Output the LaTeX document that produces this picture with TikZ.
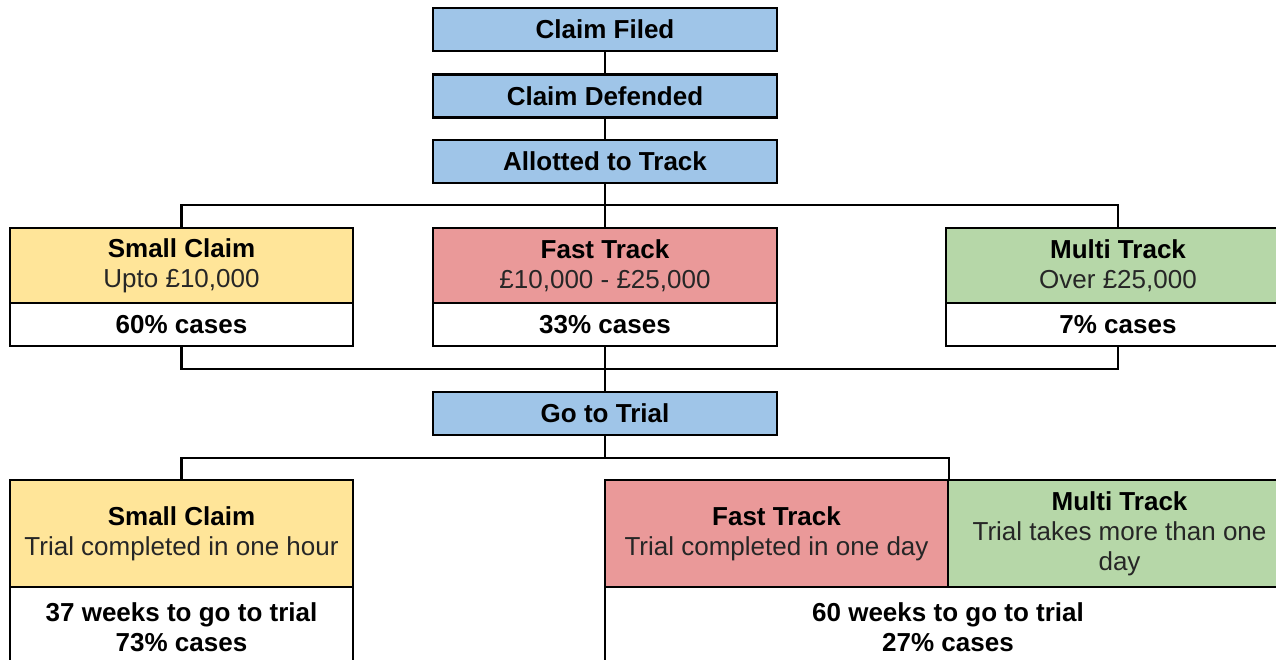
\documentclass[tikz,border=0pt]{standalone}
\usepackage{fontspec}
\setmainfont{Liberation Sans}
\definecolor{cblue}{HTML}{9FC5E8}
\definecolor{cyellow}{HTML}{FFE599}
\definecolor{cred}{HTML}{EA9999}
\definecolor{cgreen}{HTML}{B6D7A8}
\definecolor{ctext}{HTML}{262626}
\begin{document}
\begin{tikzpicture}[x=1pt,y=-1pt,
  box/.style={draw=black, line width=2.2pt, inner sep=0pt, align=center,
    font=\fontsize{26}{30}\selectfont, text=black},
  stage/.style={box, fill=cblue, minimum width=344pt, minimum height=43pt, font=\fontsize{26}{30}\selectfont\bfseries},
  whitebox/.style={box, fill=white, font=\fontsize{26}{30}\selectfont\bfseries},
  conn/.style={draw=black, line width=2.2pt}]
\useasboundingbox (0,0) rectangle (1276,659);
\clip (0,0) rectangle (1276,659);
\fill[white] (0,0) rectangle (1276,659);
\coordinate (b1) at (605,205);
\coordinate (b2) at (605,369);
\coordinate (b3) at (605,458);
% stages
\node[stage] (filed) at (605,29.5) {Claim Filed};
\node[stage] (defended) at (605,96) {Claim Defended};
\node[stage] (allotted) at (605,161.5) {Allotted to Track};
% row 2
\node[box, fill=cyellow, minimum width=343pt, minimum height=75pt] (smallT) at (181.5,265.5)
  {\textbf{Small Claim}\\{\color{ctext}Upto £10,000}};
\node[whitebox, minimum width=343pt, minimum height=43pt] (smallB) at (181.5,324.5) {60\% cases};
\node[box, fill=cred, minimum width=344pt, minimum height=75pt] (fastT) at (605,265.5)
  {\textbf{Fast Track}\\{\color{ctext}£10,000 - £25,000}};
\node[whitebox, minimum width=344pt, minimum height=43pt] (fastB) at (605,324.5) {33\% cases};
\node[box, fill=cgreen, minimum width=344pt, minimum height=75pt] (multiT) at (1118,265.5)
  {\textbf{Multi Track}\\{\color{ctext}Over £25,000}};
\node[whitebox, minimum width=344pt, minimum height=43pt] (multiB) at (1118,324.5) {7\% cases};
% go to trial
\node[stage] (trial) at (605,413.5) {Go to Trial};
% row 3
\node[box, fill=cyellow, minimum width=343pt, minimum height=107pt] (small3T) at (181.5,533.5)
  {\textbf{Small Claim}\\{\color{ctext}Trial completed in one hour}};
\node[whitebox, minimum width=343pt, minimum height=80pt] (small3B) at (181.5,627)
  {37 weeks to go to trial\\73\% cases};
\node[box, fill=cred, minimum width=343pt, minimum height=107pt] (fast3T) at (776.5,533.5)
  {\textbf{Fast Track}\\{\color{ctext}Trial completed in one day}};
\node[box, fill=cgreen, minimum width=343pt, minimum height=107pt] (multi3T) at (1119.5,533.5)
  {\textbf{Multi Track}\\{\color{ctext}Trial takes more than one}\\{\color{ctext}day}};
\node[whitebox, minimum width=686pt, minimum height=80pt] (both3B) at (948,627)
  {60 weeks to go to trial\\27\% cases};
% connector lines
\draw[conn] (filed.south) -- (defended.north);
\draw[conn] (defended.south) -- (allotted.north);
\draw[conn] (allotted.south) -- (fastT.north);
\draw[conn] (smallT.north) |- (b1) -| (multiT.north);
\draw[conn] (smallB.south) |- (b2) -| (multiB.south);
\draw[conn] (fastB.south) -- (trial.north);
\draw[conn] (trial.south) -- (b3);
\draw[conn] (small3T.north) |- (b3) -| (fast3T.north east);
\end{tikzpicture}
\end{document}
